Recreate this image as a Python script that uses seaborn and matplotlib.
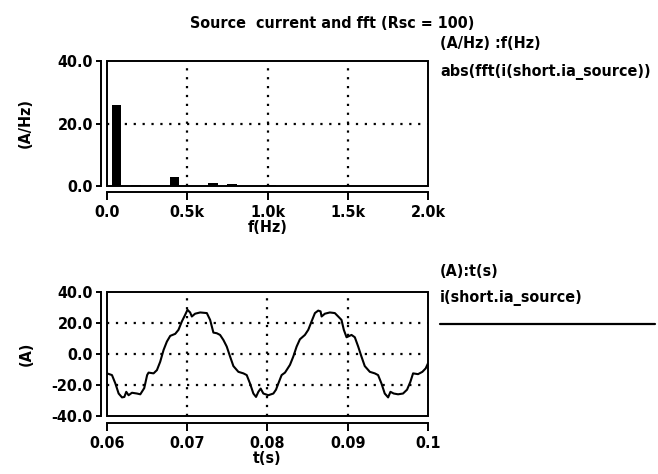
import numpy as np
import pandas as pd
import matplotlib
matplotlib.use("Agg")
import matplotlib.pyplot as plt
import seaborn as sns
from matplotlib.patches import Rectangle

# ---- data ----
freqs = [60, 180, 300, 420, 540, 660, 780, 900, 1020]
fft_mag = [26.0, 0.2, 0.3, 3.0, 0.1, 1.1, 0.5, 0.1, 0.4]

t_s = [0.06, 0.06062, 0.06104, 0.06145, 0.06187, 0.06216, 0.0624, 0.06269, 0.06311,
       0.06373, 0.06415, 0.06464, 0.065, 0.06518, 0.0658, 0.06622, 0.06663, 0.06705,
       0.06746, 0.06788, 0.0685, 0.06891, 0.06933, 0.06974, 0.07003, 0.07036, 0.07057,
       0.07098, 0.07161, 0.07244, 0.07285, 0.07326, 0.07368, 0.07409, 0.07451, 0.07492,
       0.07534, 0.07575, 0.07637, 0.077, 0.07741, 0.07782, 0.07824, 0.07857, 0.07886,
       0.07915, 0.07948, 0.0801, 0.08073, 0.08106, 0.08135, 0.08176, 0.08218, 0.0828,
       0.08321, 0.08363, 0.08404, 0.08466, 0.08508, 0.08549, 0.08591, 0.08632, 0.08661,
       0.08674, 0.08715, 0.08777, 0.08839, 0.08881, 0.08922, 0.08951, 0.08985, 0.09047,
       0.09088, 0.0913, 0.09171, 0.09212, 0.09275, 0.09337, 0.09378, 0.0942, 0.09461,
       0.09503, 0.09532, 0.09573, 0.09627, 0.09689, 0.09739, 0.0978, 0.09814, 0.09876,
       0.0993, 0.09971, 0.1]
i_a = [-12.5, -13.6, -19.0, -25.5, -28.0, -27.7, -24.4, -26.6, -25.0,
       -25.5, -26.0, -22.0, -13.6, -12.0, -12.5, -10.4, -5.0, 2.6,
       8.0, 11.7, 13.0, 15.6, 21.0, 25.3, 28.5, 26.8, 24.2,
       26.0, 26.8, 26.4, 22.0, 13.8, 13.4, 12.3, 9.0, 4.8,
       -1.7, -7.8, -11.5, -12.5, -13.6, -19.0, -25.5, -27.7, -24.4,
       -22.3, -25.5, -26.6, -25.5, -23.0, -19.0, -13.6, -12.0, -7.0,
       -1.7, 4.8, 9.5, 12.3, 15.6, 21.0, 26.4, 28.0, 27.5,
       24.2, 26.0, 26.8, 26.4, 24.2, 22.0, 15.6, 10.8, 12.3,
       10.8, 4.8, -1.7, -7.8, -11.5, -12.5, -13.6, -19.0, -25.5,
       -28.0, -24.4, -25.5, -26.0, -25.5, -23.0, -18.0, -12.5, -13.0,
       -11.5, -9.3, -6.0]

f_ticks = [0, 500, 1000, 1500, 2000]
f_ticklabels = ["0.0", "0.5k", "1.0k", "1.5k", "2.0k"]
fy_ticks = [0, 20, 40]
fy_ticklabels = ["0.0", "20.0", "40.0"]
t_ticks = [0.06, 0.07, 0.08, 0.09, 0.1]
t_ticklabels = ["0.06", "0.07", "0.08", "0.09", "0.1"]
iy_ticks = [-40, -20, 0, 20, 40]
iy_ticklabels = ["-40.0", "-20.0", "0.0", "20.0", "40.0"]

sns.set_theme(style="white")
plt.rcParams['font.family'] = ['DejaVu Sans']
plt.rcParams['font.stretch'] = 'condensed'
plt.rcParams['font.weight'] = 'bold'
plt.rcParams['text.color'] = 'black'
plt.rcParams['axes.labelcolor'] = 'black'

W, H = 658, 474
PT = 72 / 100  # points per pixel
fig = plt.figure(figsize=(W / 100, H / 100), dpi=100)
fig.patch.set_facecolor("white")

def px_axes(left, top, right, bottom):
    return fig.add_axes([left / W, 1 - bottom / H, (right - left) / W, (bottom - top) / H])

ax1 = px_axes(107, 61, 428, 186)
ax2 = px_axes(107, 292, 428, 416)

FS = 11.5
LW = 1.4
dot = (0, (1, 3.0))

def style(ax, xt, xtl, yt, ytl, xlim, ylim, boff):
    ax.set_facecolor("white")
    ax.set_xlim(*xlim)
    ax.set_ylim(*ylim)
    for s in ["top", "right"]:
        ax.spines[s].set_visible(False)
    ax.spines["left"].set_position(("outward", 6 * PT))
    ax.spines["bottom"].set_position(("outward", boff * PT))
    for s in ["left", "bottom"]:
        ax.spines[s].set_color("black")
        ax.spines[s].set_linewidth(LW)
    ax.add_patch(Rectangle((0, 0), 1, 1, transform=ax.transAxes, fill=False,
                           ec="black", lw=LW, clip_on=False, zorder=5))
    ax.set_xticks(xt)
    ax.set_xticklabels(xtl)
    ax.set_yticks(yt)
    ax.set_yticklabels(ytl)
    ax.tick_params(axis="x", direction="out", length=8 * PT, width=LW, colors="black",
                   labelsize=FS, pad=5 * PT, bottom=True)
    ax.tick_params(axis="y", direction="out", length=5 * PT, width=LW, colors="black",
                   labelsize=FS, pad=3 * PT, left=True)
    for lab in ax.get_xticklabels() + ax.get_yticklabels():
        lab.set_fontweight("bold")
        lab.set_fontstretch("condensed")

# ---- FFT bars ----
fft_df = pd.DataFrame({"f": freqs, "mag": fft_mag})
sns.histplot(data=fft_df, x="f", weights="mag", binwidth=60, binrange=(30, 2010),
             color="black", alpha=1, edgecolor="black", linewidth=0, ax=ax1, zorder=3)
style(ax1, f_ticks, f_ticklabels, fy_ticks, fy_ticklabels, (0, 2000), (0, 40), 6)
for x in [500, 1000, 1500]:
    ax1.axvline(x, color="black", ls=dot, lw=1.6, zorder=2)
ax1.axhline(20, color="black", ls=dot, lw=1.6, zorder=2)
ax1.set_xlabel("f(Hz)", fontsize=FS, fontweight="bold", color="black", labelpad=0)
ax1.set_ylabel("(A/Hz)", fontsize=FS, fontweight="bold", color="black", labelpad=18)

# ---- waveform ----
wave_df = pd.DataFrame({"t": t_s, "i": i_a})
sns.lineplot(data=wave_df, x="t", y="i", color="black", lw=1.5, ax=ax2, zorder=3)
style(ax2, t_ticks, t_ticklabels, iy_ticks, iy_ticklabels, (0.06, 0.1), (-40, 40), 7)
for x in [0.07, 0.08, 0.09]:
    ax2.axvline(x, color="black", ls=dot, lw=1.6, zorder=2)
for y in [-20, 0, 20]:
    ax2.axhline(y, color="black", ls=dot, lw=1.6, zorder=2)
ax2.set_xlabel("t(s)", fontsize=FS, fontweight="bold", color="black", labelpad=0)
ax2.set_ylabel("(A)", fontsize=FS, fontweight="bold", color="black", labelpad=13)

# ---- texts ----
def ftext(x, y, s, **kw):
    fig.text(x / W, 1 - y / H, s, fontsize=FS, fontweight="bold", color="black",
             fontstretch="condensed", **kw)

ftext(332, 24, "Source  current and fft (Rsc = 100)", ha="center", va="center")
ftext(440, 43, "(A/Hz) :f(Hz)", ha="left", va="center")
ftext(440, 72, "abs(fft(i(short.ia_source))", ha="left", va="center")
ftext(440, 272, "(A):t(s)", ha="left", va="center")
ftext(440, 298, "i(short.ia_source)", ha="left", va="center")
fig.add_artist(plt.Line2D([440 / W, 655 / W], [1 - 324 / H, 1 - 324 / H],
                          color="black", lw=1.6, transform=fig.transFigure))

fig.savefig("out.png", dpi=100, facecolor="white")
